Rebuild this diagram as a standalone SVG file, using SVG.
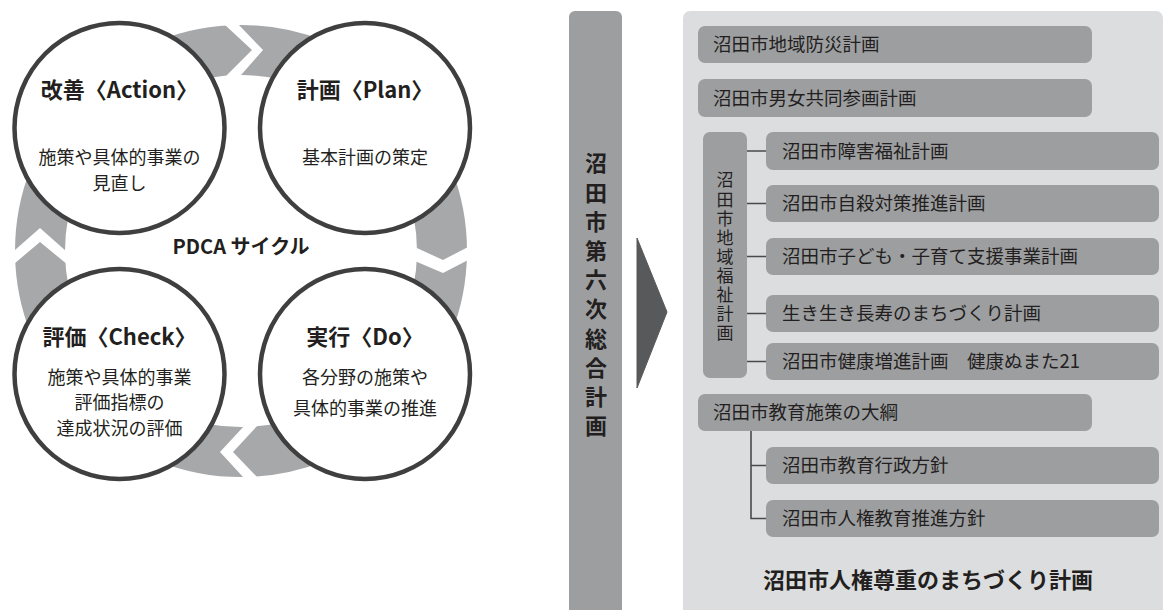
<svg xmlns="http://www.w3.org/2000/svg" width="1164" height="610" viewBox="0 0 1164 610">
<style>
text{font-family:"Noto Sans CJK JP","Noto Sans",sans-serif;fill:#231f20}
.t{font-size:22px;font-weight:bold}
.s{font-size:18px}
.b{font-size:18.5px}
.c{text-anchor:middle}
.vt{writing-mode:vertical-rl;text-orientation:upright}
.circ{fill:#fff;stroke:#3f3f3f;stroke-width:4.5}
.box{fill:#9d9ea0}
.chev{fill:#fff}
.ln{stroke:#4a4a4c;stroke-width:1.6;fill:none}
</style>
<rect width="1164" height="610" fill="#fff"/>
<g id="cycle">
<circle cx="241" cy="251" r="201" fill="none" stroke="#a7a8aa" stroke-width="50"/>
<polygon class="chev" points="221.8,22 252,50 224,78 238.4,78 263,50 236.1,22"/>
<polygon class="chev" points="413,246.2 443,260 472,244.9 472,257.9 443,273 413,260.3"/>
<polygon class="chev" points="247.8,422 220,452 245.8,480 259.9,480 233,452 260.8,422"/>
<polygon class="chev" points="11,253.5 40,228 71,255.6 71,267.5 40,242 11,266.4"/>
<text class="c" x="241" y="254" style="font-size:20px;font-weight:bold">PDCA サイクル</text>
</g>
<g id="action">
<circle class="circ" cx="119.5" cy="128" r="105"/>
<text class="t c" x="119.5" y="98">改善〈Action〉</text>
<text class="s c" x="119.5" y="163.5">施策や具体的事業の</text>
<text class="s c" x="119.5" y="189.5">見直し</text>
</g>
<g id="plan">
<circle class="circ" cx="365" cy="128" r="105"/>
<text class="t c" x="365" y="98">計画〈Plan〉</text>
<text class="s c" x="365" y="163.5">基本計画の策定</text>
</g>
<g id="check">
<circle class="circ" cx="119.5" cy="374" r="105"/>
<text class="t c" x="119.5" y="345">評価〈Check〉</text>
<text class="s c" x="119.5" y="383.5">施策や具体的事業</text>
<text class="s c" x="119.5" y="408.5">評価指標の</text>
<text class="s c" x="119.5" y="434.5">達成状況の評価</text>
</g>
<g id="do">
<circle class="circ" cx="365" cy="374" r="105"/>
<text class="t c" x="365" y="345">実行〈Do〉</text>
<text class="s c" x="365" y="383.5">各分野の施策や</text>
<text class="s c" x="365" y="414.5">具体的事業の推進</text>
</g>
<g id="sougou">
<rect class="box" x="569" y="11" width="53" height="620" rx="6"/>
<text class="t vt" x="596" y="152" style="letter-spacing:7.2px">沼田市第六次総合計画</text>
</g>
<g id="arrow">
<polygon points="637,238 667,312 637,388" fill="#58595b" stroke="#58595b" stroke-width="1" stroke-linejoin="round"/>
</g>
<g id="panel">
<rect x="683" y="11" width="480" height="620" rx="7" fill="#dcdddf"/>
</g>
<g id="connectors">
<path class="ln" d="M747,151H766M747,203.5H766M747,256.5H766M747,313.5H766M747,361.5H766"/>
<path class="ln" d="M751,431V518.5H766M751,465.5H766"/>
</g>
<g id="bousai">
<rect class="box" x="698" y="26" width="394" height="37" rx="7"/>
<text class="b" x="713" y="51">沼田市地域防災計画</text>
</g>
<g id="danjo">
<rect class="box" x="698" y="79" width="394" height="38" rx="7"/>
<text class="b" x="713" y="104.5">沼田市男女共同参画計画</text>
</g>
<g id="fukushi">
<rect class="box" x="703" y="132" width="44" height="246" rx="7"/>
<text class="vt" x="725" y="171.5" style="font-size:17px;letter-spacing:2.1px">沼田市地域福祉計画</text>
</g>
<g id="shogai">
<rect class="box" x="766" y="132" width="393" height="38" rx="7"/>
<text class="b" x="782" y="157.5">沼田市障害福祉計画</text>
</g>
<g id="jisatsu">
<rect class="box" x="766" y="185" width="393" height="37" rx="7"/>
<text class="b" x="782" y="210">沼田市自殺対策推進計画</text>
</g>
<g id="kodomo">
<rect class="box" x="766" y="238" width="393" height="37" rx="7"/>
<text class="b" x="782" y="263">沼田市子ども・子育て支援事業計画</text>
</g>
<g id="choju">
<rect class="box" x="766" y="295" width="393" height="37" rx="7"/>
<text class="b" x="782" y="320">生き生き長寿のまちづくり計画</text>
</g>
<g id="kenko">
<rect class="box" x="766" y="343" width="393" height="37" rx="7"/>
<text class="b" x="782" y="368">沼田市健康増進計画　健康ぬまた21</text>
</g>
<g id="kyoiku">
<rect class="box" x="698" y="394" width="394" height="37" rx="7"/>
<text class="b" x="713" y="419">沼田市教育施策の大綱</text>
</g>
<g id="gyosei">
<rect class="box" x="766" y="447" width="393" height="37" rx="7"/>
<text class="b" x="782" y="472">沼田市教育行政方針</text>
</g>
<g id="jinken">
<rect class="box" x="766" y="500" width="393" height="37" rx="7"/>
<text class="b" x="782" y="525">沼田市人権教育推進方針</text>
</g>
<g id="title">
<text class="t c" x="928" y="588">沼田市人権尊重のまちづくり計画</text>
</g>
</svg>
